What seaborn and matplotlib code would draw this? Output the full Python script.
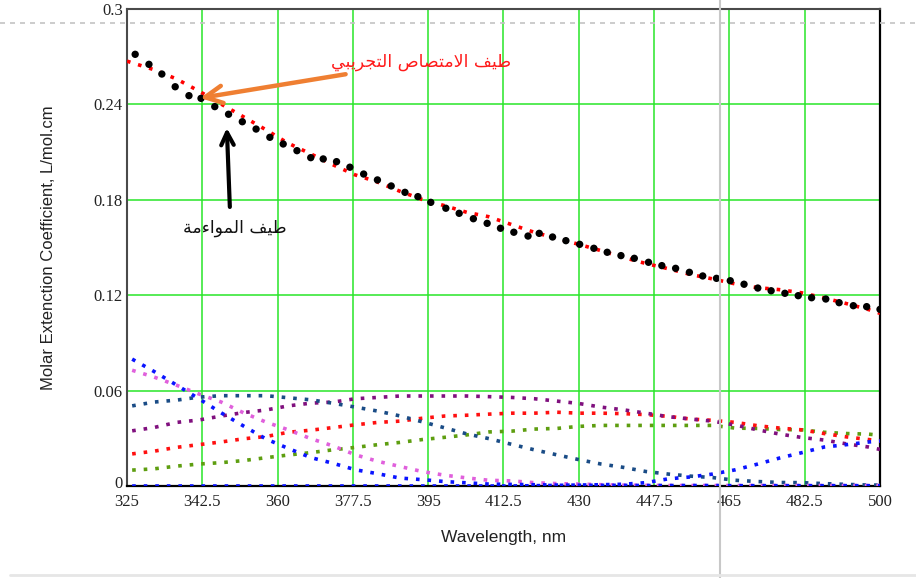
import numpy as np
import pandas as pd
import matplotlib
matplotlib.use("Agg")
import matplotlib.pyplot as plt
import matplotlib.transforms as mtransforms
from matplotlib.lines import Line2D
import seaborn as sns

# ---------------- data ----------------
# experimental spectrum (red dotted)
exp_wl = [325.0, 331.3, 336.5, 341.7, 347.0, 352.0, 357.0, 362.3, 367.6, 372.8, 378.0,
          383.0, 388.4, 393.5, 398.8, 404.0, 409.0, 414.4, 419.6, 424.7, 430.0, 435.2,
          440.3, 445.5, 450.7, 456.0, 461.0, 466.2, 471.4, 476.6, 481.8, 487.0, 492.1,
          497.3, 500.0]
exp_val = [0.2672, 0.2618, 0.2560, 0.2484, 0.2400, 0.2323, 0.2245, 0.2158, 0.2090, 0.2021, 0.1957,
           0.1914, 0.1854, 0.1803, 0.1763, 0.1721, 0.1694, 0.1644, 0.1596, 0.1558, 0.1520, 0.1480,
           0.1438, 0.1400, 0.1367, 0.1330, 0.1303, 0.1272, 0.1248, 0.1235, 0.1215, 0.1183, 0.1148,
           0.1110, 0.1086]

# fitted spectrum (black dots)
fit_wl = [326.9, 330.1, 333.1, 336.2, 339.4, 342.2, 345.4, 348.6, 351.8, 355.0, 358.2,
          361.3, 364.5, 367.7, 370.6, 373.7, 376.8, 380.0, 383.2, 386.4, 389.6, 392.6,
          395.6, 399.1, 402.2, 405.5, 408.7, 411.8, 414.9, 418.2, 420.8, 423.9, 427.0,
          430.2, 433.5, 436.6, 439.8, 442.9, 446.2, 449.3, 452.5, 455.7, 458.8, 462.0,
          465.2, 468.4, 471.6, 474.7, 477.9, 481.0, 484.1, 487.4, 490.5, 493.8, 496.9, 500.0]
fit_val = [0.2715, 0.2652, 0.2591, 0.2511, 0.2455, 0.2438, 0.2386, 0.2338, 0.2291, 0.2245, 0.2193,
           0.2151, 0.2109, 0.2065, 0.2057, 0.2040, 0.2005, 0.1962, 0.1925, 0.1887, 0.1847, 0.1820,
           0.1784, 0.1747, 0.1715, 0.1681, 0.1652, 0.1621, 0.1596, 0.1572, 0.1589, 0.1566, 0.1543,
           0.1520, 0.1495, 0.1470, 0.1449, 0.1432, 0.1407, 0.1386, 0.1369, 0.1344, 0.1321, 0.1306,
           0.1291, 0.1269, 0.1245, 0.1228, 0.1212, 0.1197, 0.1184, 0.1176, 0.1153, 0.1134, 0.1128, 0.1111]

# component spectra
comp_wl = [326.2, 331.3, 336.5, 341.7, 346.9, 352.1, 357.3, 362.5, 367.7, 373.0, 378.1,
           383.3, 388.4, 393.6, 398.8, 403.9, 409.1, 414.4, 419.6, 424.9, 430.0, 435.2,
           440.4, 445.6, 450.8, 456.0, 461.1, 466.4, 471.6, 476.8, 481.9, 487.0, 492.2,
           497.4, 500.0]
blue_a = [0.0798, 0.0720, 0.0635, 0.0549, 0.0460, 0.0377, 0.0296, 0.0236, 0.0179, 0.0142, 0.0102,
          0.0077, 0.0050, 0.0040, 0.0028, 0.0020, 0.0012, 0.0010, 0.0008, 0.0006, 0.0005, 0.0004,
          0.0004, 0.0003, 0.0003, 0.0003, 0.0003, 0.0002, 0.0002, 0.0002, 0.0002, 0.0002, 0.0002,
          0.0002, 0.0002]
blue_b = [0.0, 0.0, 0.0, 0.0, 0.0, 0.0, 0.0, 0.0, 0.0, 0.0, 0.0,
          0.0, 0.0, 0.0, 0.0, 0.0, 0.0, 0.0, 0.0002, 0.0004, 0.0006, 0.0008,
          0.0011, 0.0021, 0.0045, 0.0057, 0.0075, 0.0102, 0.0138, 0.0177, 0.0210, 0.0245, 0.0260,
          0.0277, 0.0283]
navy = [0.0504, 0.0528, 0.0540, 0.0559, 0.0568, 0.0568, 0.0568, 0.0555, 0.0542, 0.0520, 0.0496,
        0.0471, 0.0441, 0.0404, 0.0366, 0.0328, 0.0298, 0.0262, 0.0228, 0.0196, 0.0166, 0.0138,
        0.0117, 0.0091, 0.0075, 0.0062, 0.0053, 0.0036, 0.0028, 0.0022, 0.0021, 0.0015, 0.0010,
        0.0006, 0.0006]
purple = [0.0347, 0.0368, 0.0400, 0.0415, 0.0440, 0.0462, 0.0478, 0.0504, 0.0521, 0.0528, 0.0549,
          0.0557, 0.0566, 0.0566, 0.0566, 0.0566, 0.0562, 0.0557, 0.0549, 0.0534, 0.0519, 0.0496,
          0.0479, 0.0458, 0.0436, 0.0421, 0.0408, 0.0383, 0.0353, 0.0326, 0.0305, 0.0289, 0.0265,
          0.0245, 0.0230]
red_c = [0.0202, 0.0219, 0.0243, 0.0260, 0.0277, 0.0297, 0.0311, 0.0338, 0.0351, 0.0368, 0.0385,
         0.0400, 0.0408, 0.0426, 0.0440, 0.0445, 0.0452, 0.0458, 0.0458, 0.0464, 0.0458, 0.0458,
         0.0455, 0.0449, 0.0438, 0.0421, 0.0413, 0.0400, 0.0379, 0.0364, 0.0353, 0.0330, 0.0309,
         0.0292, 0.0283]
green = [0.0100, 0.0108, 0.0125, 0.0138, 0.0147, 0.0160, 0.0178, 0.0195, 0.0210, 0.0228, 0.0243,
         0.0260, 0.0274, 0.0292, 0.0306, 0.0321, 0.0340, 0.0345, 0.0358, 0.0362, 0.0375, 0.0381,
         0.0381, 0.0381, 0.0381, 0.0381, 0.0381, 0.0364, 0.0362, 0.0355, 0.0353, 0.0338, 0.0330,
         0.0326, 0.0319]
pink = [0.0728, 0.0685, 0.0634, 0.0579, 0.0528, 0.0460, 0.0402, 0.0353, 0.0298, 0.0251, 0.0196,
        0.0155, 0.0123, 0.0091, 0.0068, 0.0051, 0.0036, 0.0032, 0.0021, 0.0015, 0.0012, 0.0008,
        0.0005, 0.0004, 0.0003, 0.0003, 0.0003, 0.0003, 0.0003, 0.0003, 0.0003, 0.0003, 0.0003,
        0.0003, 0.0003]

x_ticks = [325, 342.5, 360, 377.5, 395, 412.5, 430, 447.5, 465, 482.5, 500]
x_tick_labels = ["325", "342.5", "360", "377.5", "395", "412.5", "430", "447.5", "465", "482.5", "500"]
y_ticks = [0, 0.06, 0.12, 0.18, 0.24, 0.3]
y_tick_labels = ["0", "0.06", "0.12", "0.18", "0.24", "0.3"]

label_exp = "طيف الامتصاص التجريبي"
label_fit = "طيف المواءمة"
x_title = "Wavelength, nm"
y_title = "Molar Extenction Coefficient, L/mol.cm"

# ---------------- Arabic shaping (presentation forms, visual order) ----------------
_FORMS = {  # isolated, final, initial, medial
    'ا': ('\uFE8D', '\uFE8E', None, None),
    'ب': ('\uFE8F', '\uFE90', '\uFE91', '\uFE92'),
    'ة': ('\uFE93', '\uFE94', None, None),
    'ت': ('\uFE95', '\uFE96', '\uFE97', '\uFE98'),
    'ج': ('\uFE9D', '\uFE9E', '\uFE9F', '\uFEA0'),
    'ر': ('\uFEAD', '\uFEAE', None, None),
    'ص': ('\uFEB9', '\uFEBA', '\uFEBB', '\uFEBC'),
    'ط': ('\uFEC1', '\uFEC2', '\uFEC3', '\uFEC4'),
    'ف': ('\uFED1', '\uFED2', '\uFED3', '\uFED4'),
    'ل': ('\uFEDD', '\uFEDE', '\uFEDF', '\uFEE0'),
    'م': ('\uFEE1', '\uFEE2', '\uFEE3', '\uFEE4'),
    'و': ('\uFEED', '\uFEEE', None, None),
    'ي': ('\uFEF1', '\uFEF2', '\uFEF3', '\uFEF4'),
    'ء': ('\uFE80', None, None, None),
    'لا': ('\uFEFB', '\uFEFC', None, None),
}


def shape_ar(s):
    toks = []
    i = 0
    while i < len(s):
        if s[i] == 'ل' and i + 1 < len(s) and s[i + 1] == 'ا':
            toks.append('لا')
            i += 2
        else:
            toks.append(s[i])
            i += 1

    def dual(t):
        f = _FORMS.get(t)
        return f is not None and f[2] is not None

    def joins(t):
        f = _FORMS.get(t)
        return f is not None and f[1] is not None

    out = []
    for k, t in enumerate(toks):
        f = _FORMS.get(t)
        if f is None:
            out.append(t)
            continue
        pj = k > 0 and dual(toks[k - 1]) and joins(t)
        nj = k + 1 < len(toks) and dual(t) and joins(toks[k + 1])
        if pj and nj:
            g = f[3]
        elif pj:
            g = f[1]
        elif nj:
            g = f[2]
        else:
            g = f[0]
        out.append(g)
    return ''.join(reversed(out))


# ---------------- figure ----------------
sns.set_style("white")
plt.rcParams['font.family'] = ['DejaVu Sans']

W, H = 916, 578
fig = plt.figure(figsize=(W / 100, H / 100), dpi=100)
ax = fig.add_axes([127 / W, 1 - 486 / H, (880 - 127) / W, (486 - 9) / H])

dot_style = (0, (1, 2.2))
lw = 2.6

comp = pd.DataFrame({"wl": comp_wl, "blue_a": blue_a, "blue_b": blue_b, "navy": navy,
                     "purple": purple, "red": red_c, "green": green, "pink": pink})
colors = {"green": "#5e9e10", "red": "#ff1010", "purple": "#80107e", "navy": "#1a4c86",
          "pink": "#e060dc", "blue_b": "#0a14ff", "blue_a": "#0a14ff"}
for name in ["green", "red", "purple", "navy", "pink", "blue_b", "blue_a"]:
    sns.lineplot(data=comp, x="wl", y=name, color=colors[name], linewidth=lw,
                 linestyle=dot_style, dash_capstyle="butt", ax=ax, zorder=3)

exp_df = pd.DataFrame({"wl": exp_wl, "val": exp_val})
sns.lineplot(data=exp_df, x="wl", y="val", color="#ff0000", linewidth=lw,
             linestyle=dot_style, dash_capstyle="butt", ax=ax, zorder=4)

fit_df = pd.DataFrame({"wl": fit_wl, "val": fit_val})
sns.scatterplot(data=fit_df, x="wl", y="val", color="black", s=28, marker="o",
                edgecolor="none", ax=ax, zorder=5)

ax.set_xlim(325, 500)
ax.set_ylim(0, 0.3)
ax.set_xticks(x_ticks)
ax.set_xticklabels(x_tick_labels)
ax.set_yticks(y_ticks)
ax.set_yticklabels(y_tick_labels)
ax.grid(True, color="#28e628", linewidth=1.1)
ax.set_axisbelow(True)
ax.tick_params(axis="both", length=0, labelsize=12, colors="#222222")
ax.tick_params(axis="x", pad=6)
ax.tick_params(axis="y", pad=3)
for lab in ax.get_xticklabels() + ax.get_yticklabels():
    lab.set_family("Liberation Serif")

# lift the "0" label a little so it does not collide with "325"
zero_lab = ax.get_yticklabels()[0]
zero_lab.set_transform(zero_lab.get_transform() +
                       mtransforms.ScaledTranslation(0, 4 / 100, fig.dpi_scale_trans))

ax.set_xlabel(x_title, fontsize=12.5, family="Liberation Sans", color="#222222", labelpad=14)
ax.set_ylabel(y_title, fontsize=12, family="Liberation Sans", color="#222222", labelpad=27)

for side in ["left", "top"]:
    ax.spines[side].set_color("#4a4a4a")
    ax.spines[side].set_linewidth(1.5)
for side in ["right", "bottom"]:
    ax.spines[side].set_color("#000000")
    ax.spines[side].set_linewidth(1.6)

# annotations
ax.annotate(shape_ar(label_exp), xy=(342.0, 0.2440), xytext=(372.3, 0.2667),
            color="#ff1a1a", fontsize=12.5, family="DejaVu Sans", ha="left", va="center",
            arrowprops=dict(arrowstyle="->,head_length=1.0,head_width=0.5", color="#ef7f32",
                            lw=3.2, shrinkA=0, shrinkB=0), zorder=6)
ax.annotate("", xy=(348.2, 0.2252), xytext=(348.9, 0.1755),
            arrowprops=dict(arrowstyle="->,head_length=0.9,head_width=0.45", color="black",
                            lw=3.0, shrinkA=0, shrinkB=0), zorder=6)
ax.text(350.1, 0.1623, shape_ar(label_fit), color="#111111", fontsize=12.5,
        family="DejaVu Sans", ha="center", va="center", zorder=6)

# screenshot artefacts
fig.add_artist(Line2D([0, 1], [1 - 23 / H, 1 - 23 / H], transform=fig.transFigure,
                      color="#c4c4c4", lw=1.2, linestyle=(0, (3, 3)), zorder=10))
fig.add_artist(Line2D([720 / W, 720 / W], [0, 1], transform=fig.transFigure,
                      color="#c8c8c8", lw=1.5, zorder=10))
fig.add_artist(Line2D([10 / W, 1], [1 - 575 / H, 1 - 575 / H], transform=fig.transFigure,
                      color="#e6e6e6", lw=2, zorder=10))

fig.savefig("out.png", dpi=100)
